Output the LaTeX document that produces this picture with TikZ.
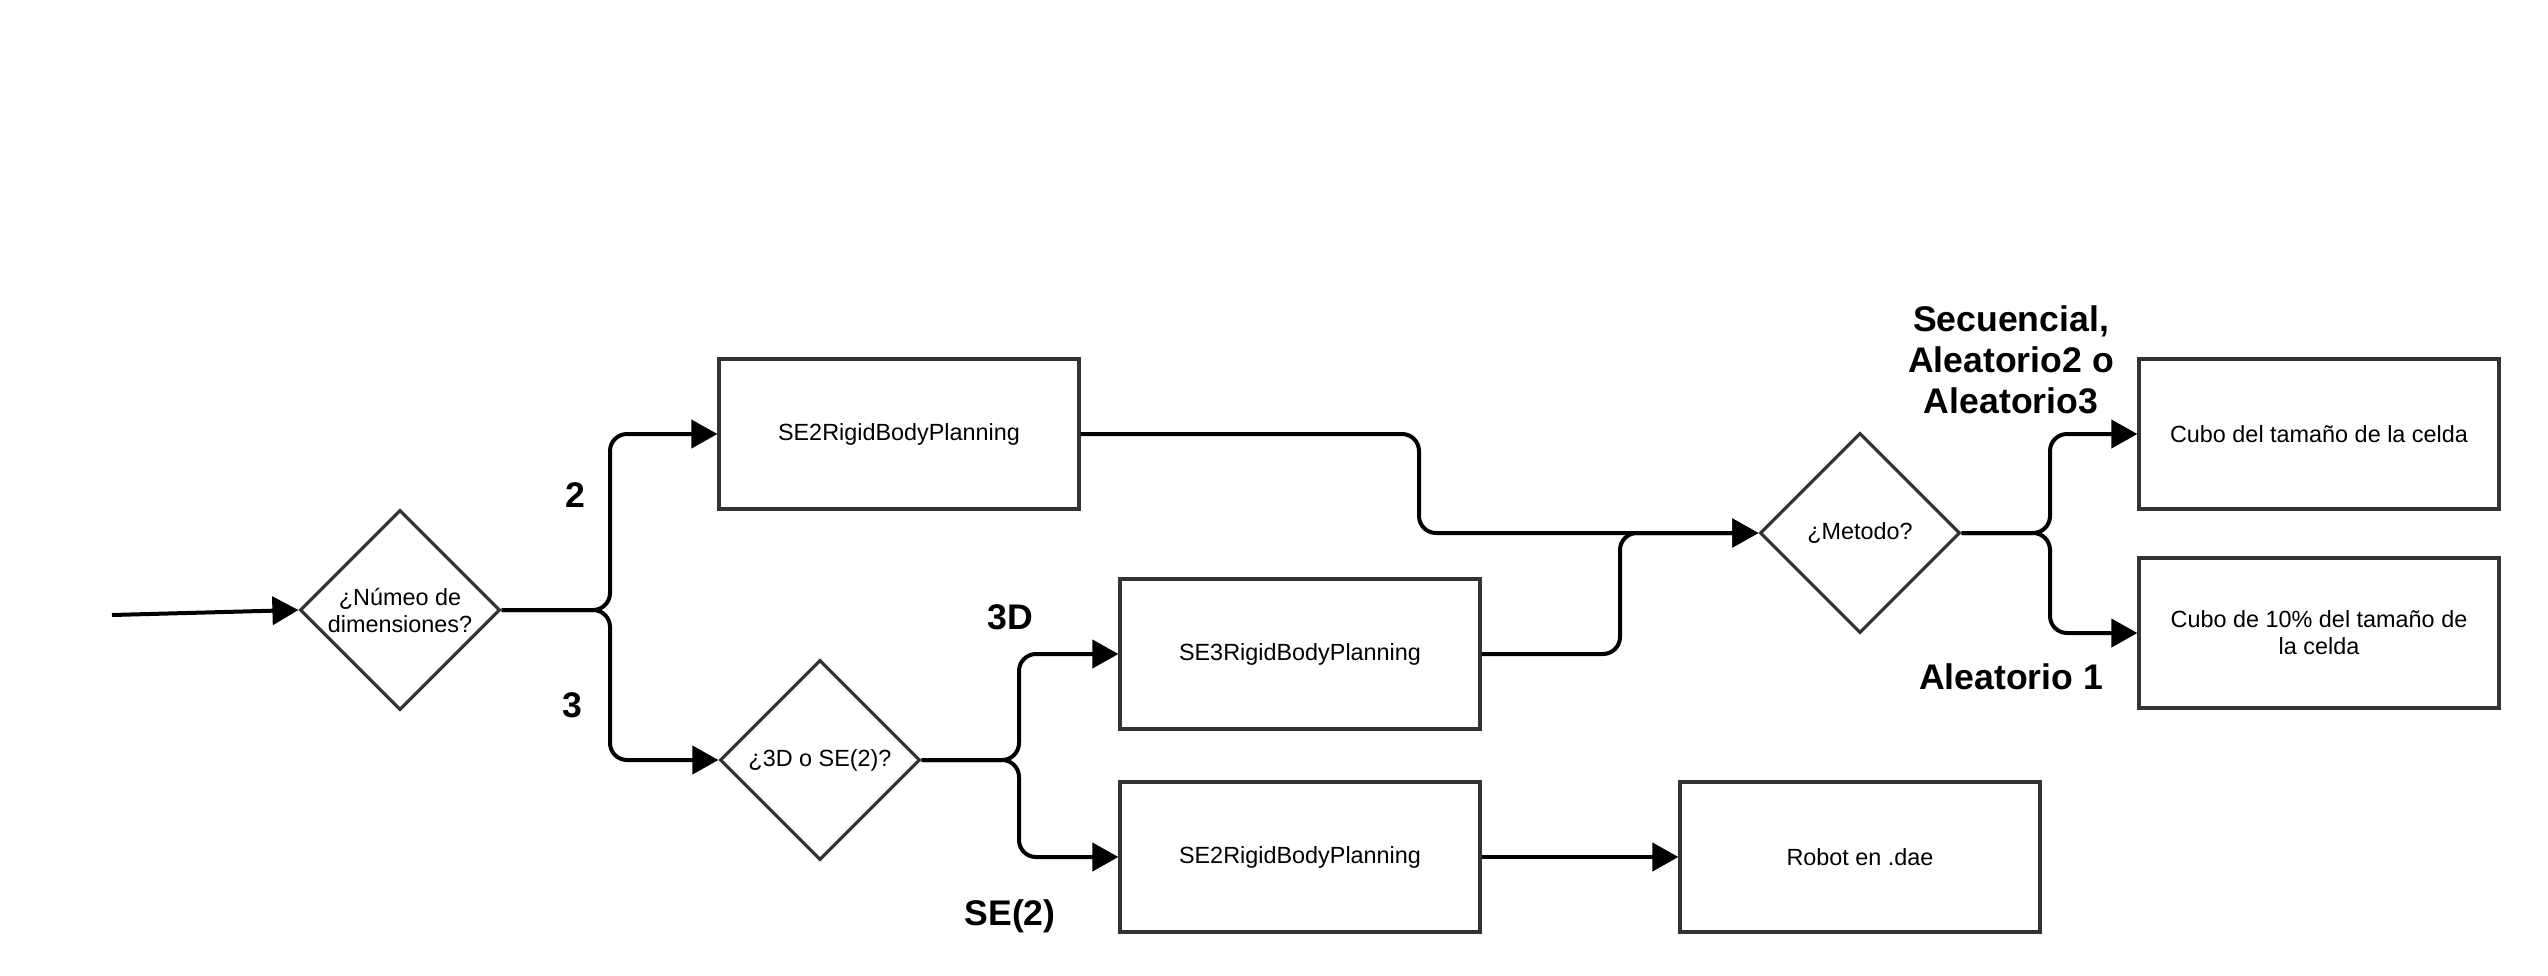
\documentclass[tikz,border=0pt]{standalone}
\usepackage{fontspec}
\setmainfont{Liberation Sans}
\usetikzlibrary{shapes.geometric,arrows.meta}
\definecolor{boxc}{HTML}{333333}
\begin{document}
\begin{tikzpicture}[x=0.5pt,y=-0.5pt,
  every node/.style={font=\fontsize{11.7}{13.5}\selectfont},
  procbox/.style={draw=boxc, line width=1.6pt, minimum width=180pt, minimum height=75pt, inner sep=0pt, align=center, fill=white},
  decision/.style={draw=boxc, line width=1.6pt, diamond, aspect=1, minimum width=100pt, minimum height=100pt, inner sep=0pt},
  dtext/.style={align=center, inner sep=0pt},
  conn/.style={line width=2pt, rounded corners=8.5pt, -{Triangle[length=13pt,width=14pt]}},
  lbl/.style={font=\fontsize{17.8}{20}\selectfont\bfseries, align=center, inner sep=0pt}
]
\useasboundingbox (0,0) rectangle (2548,975);
\fill[white] (0,0) rectangle (2548,975);

% nodes
\node[decision] (d1) at (400,610) {};
\node[dtext] (d1t) at (400,610) {¿Númeo de\\dimensiones?};
\node[procbox] (se2) at (899,434) {SE2RigidBodyPlanning};
\node[decision] (d2) at (820,760) {};
\node[dtext] (d2t) at (820,760) {¿3D o SE(2)?};
\node[procbox] (se3) at (1300,654) {SE3RigidBodyPlanning};
\node[procbox] (se2b) at (1300,857) {SE2RigidBodyPlanning};
\node[procbox] (robot) at (1860,857) {Robot en .dae};
\node[decision] (met) at (1860,533) {};
\node[dtext] (mett) at (1860,533) {¿Metodo?};
\node[procbox] (c1) at (2319,434) {Cubo del tamaño de la celda};
\node[procbox] (c2) at (2319,633) {Cubo de 10\% del tamaño de\\la celda};

% branch coordinates
\coordinate (start) at (112,615);
\coordinate (b1) at (610,610);
\coordinate (b2) at (1019,760);
\coordinate (b3) at (2050,533);
\coordinate (m1) at (1419,533);
\coordinate (m2) at (1620,533);

% connectors
\draw[conn,rounded corners=0pt] (start) -- (d1.west);
\draw[conn] (d1.east) -- (b1) |- (se2.west);
\draw[conn] (d1.east) -- (b1) |- (d2.west);
\draw[conn] (d2.east) -- (b2) |- (se3.west);
\draw[conn] (d2.east) -- (b2) |- (se2b.west);
\draw[conn] (se2b.east) -- (robot.west);
\draw[conn] (se2.east) -| (m1) -- (met.west);
\draw[conn] (se3.east) -| (m2) -- (met.west);
\draw[conn] (met.east) -- (b3) |- (c1.west);
\draw[conn] (met.east) -- (b3) |- (c2.west);

% labels
\node[lbl] (l2) at (575,495) {2};
\node[lbl] (l3) at (572,705) {3};
\node[lbl] (l3d) at (1010,617) {3D};
\node[lbl] (lse2) at (1010,916) {SE(2)};
\node[lbl,font=\fontsize{17.8}{20.5}\selectfont\bfseries] (lsec) at (2011,360) {Secuencial,\\Aleatorio2 o\\Aleatorio3};
\node[lbl] (lal1) at (2011,677) {Aleatorio 1};
\end{tikzpicture}
\end{document}
